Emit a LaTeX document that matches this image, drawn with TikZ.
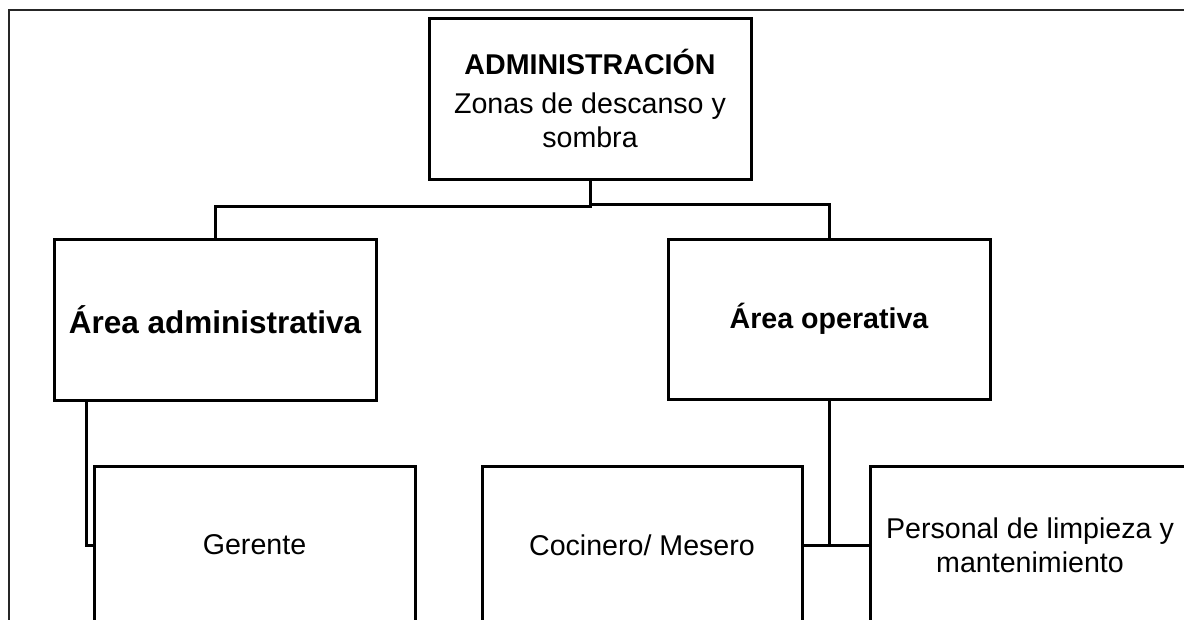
\documentclass[tikz,border=0pt]{standalone}
\usepackage{fontspec}
\setmainfont{Liberation Sans}
\tikzset{
  orgbox/.style={draw=black, line width=3pt, rectangle, inner sep=0pt, align=center,
    font=\fontsize{28.6}{34}\selectfont, fill=white},
  link/.style={draw=black, line width=3pt},
  frame/.style={draw=black!85, line width=2.4pt}
}
\begin{document}
\begin{tikzpicture}[x=1pt,y=-1pt]
\useasboundingbox (0,0) rectangle (1184,619);
\clip (0,0) rectangle (1184,619);
\fill[white] (0,0) rectangle (1184,619);
% outer frame
\draw[frame] (9,640) -- (9,10) -- (1200,10);
% boxes
\node[orgbox, minimum width=322pt, minimum height=161pt] (top) at (590,98.5)
  {{\fontsize{28.6}{34}\selectfont\bfseries ADMINISTRACIÓN}\\[5pt]Zonas de descanso y\\sombra};
\node[orgbox, minimum width=322pt, minimum height=161pt] (aadm) at (215,319.5)
  {\fontsize{31.5}{36}\selectfont\bfseries Área administrativa};
\node[orgbox, minimum width=322pt, minimum height=160pt] (aop) at (829,319)
  {\bfseries Área operativa};
\node[orgbox, minimum width=321pt, minimum height=158pt] (ger) at (254.5,545) {Gerente};
\node[orgbox, minimum width=320pt, minimum height=158pt] (coc) at (642,545) {Cocinero/ Mesero};
\node[orgbox, minimum width=320pt, minimum height=158pt] (per) at (1030,545)
  {Personal de limpieza y\\mantenimiento};
% connectors
\draw[link] (top.south) -- ([yshift=-26pt]top.south) -| (aadm.north);
\draw[link] ([yshift=-24pt]top.south) -| (aop.north);
\draw[link] ([xshift=-129pt]aadm.south) |- (ger.west);
\draw[link] (aop.south) -- (aop.south |- coc.east);
\draw[link] (coc.east) -- (per.west);
\end{tikzpicture}
\end{document}
